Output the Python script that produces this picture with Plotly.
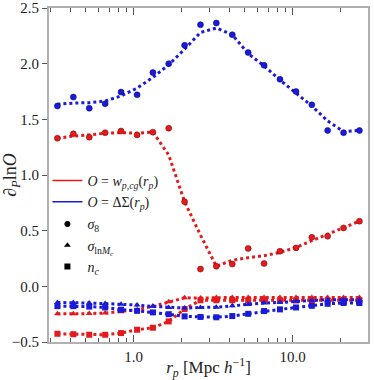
import plotly.graph_objects as go

# projected separation bins [Mpc/h]
rp = [0.331, 0.417, 0.525, 0.661, 0.832, 1.05, 1.32, 1.66, 2.09, 2.63,
      3.31, 4.17, 5.25, 6.61, 8.32, 10.5, 13.2, 16.6, 20.9, 26.3]

# O = w_p,cg(r_p)
wp_s8 = [1.33, 1.37, 1.34, 1.38, 1.395, 1.36, 1.385, 1.42, 0.76, 0.155,
         0.18, 0.20, 0.34, 0.205, 0.315, 0.345, 0.44, 0.45, 0.525, 0.585]
wp_s8_fit = [1.33, 1.35, 1.36, 1.375, 1.38, 1.375, 1.385, 1.18, 0.76, 0.46,
             0.18, 0.235, 0.257, 0.275, 0.305, 0.35, 0.41, 0.47, 0.53, 0.585]
wp_lnmc = [-0.247, -0.247, -0.245, -0.24, -0.228, -0.21, -0.18, -0.139, -0.103, -0.105,
           -0.10, -0.10, -0.10, -0.10, -0.10, -0.10, -0.10, -0.10, -0.10, -0.10]
wp_nc = [-0.426, -0.43, -0.435, -0.435, -0.42, -0.39, -0.372, -0.315, -0.204, -0.125,
         -0.125, -0.125, -0.127, -0.127, -0.127, -0.127, -0.127, -0.127, -0.125, -0.125]

# O = DeltaSigma(r_p)
ds_s8 = [1.62, 1.70, 1.60, 1.64, 1.745, 1.72, 1.92, 2.00, 2.165, 2.35,
         2.365, 2.26, 2.10, 1.985, 1.86, 1.75, 1.63, 1.40, 1.38, 1.40]
ds_s8_fit = [1.635, 1.646, 1.65, 1.664, 1.71, 1.78, 1.877, 1.99, 2.13, 2.28,
             2.32, 2.26, 2.09, 1.98, 1.853, 1.733, 1.62, 1.485, 1.39, 1.40]
ds_lnmc = [-0.145, -0.145, -0.15, -0.155, -0.16, -0.168, -0.18, -0.19, -0.195, -0.19,
           -0.187, -0.175, -0.163, -0.15, -0.145, -0.133, -0.127, -0.12, -0.12, -0.12]
ds_nc = [-0.178, -0.178, -0.182, -0.19, -0.21, -0.22, -0.234, -0.25, -0.27, -0.275,
         -0.278, -0.267, -0.247, -0.222, -0.207, -0.19, -0.175, -0.157, -0.15, -0.15]

RED = "#e41a1c"
BLUE = "#1a1ad9"
FONT = "Liberation Serif"

fig = go.Figure()


def add_set(fit, pts, color, symbol, fit_mode="lines"):
    fig.add_trace(go.Scatter(x=rp, y=fit, mode=fit_mode, showlegend=False,
                             line=dict(color=color, width=3, dash="dot"),
                             marker=dict(color=color, size=6, symbol=symbol)))
    if pts is not None:
        fig.add_trace(go.Scatter(x=rp, y=pts, mode="markers", showlegend=False,
                                 marker=dict(color=color, size=6, symbol=symbol,
                                             line=dict(color="#700000" if color == RED else "#000070", width=0.5))))


add_set(wp_s8_fit, wp_s8, RED, "circle")
add_set(ds_s8_fit, ds_s8, BLUE, "circle")
add_set(wp_lnmc, None, RED, "triangle-up", "lines+markers")
add_set(wp_nc, None, RED, "square", "lines+markers")
add_set(ds_lnmc, None, BLUE, "triangle-up", "lines+markers")
add_set(ds_nc, None, BLUE, "square", "lines+markers")

# legend entries: observables (lines) and parameters (markers)
fig.add_trace(go.Scatter(x=[None], y=[None], mode="lines", line=dict(color=RED, width=1.5),
                         name="<i>O</i> = <i>w</i><sub><i>p,cg</i></sub>(<i>r</i><sub><i>p</i></sub>)"))
fig.add_trace(go.Scatter(x=[None], y=[None], mode="lines", line=dict(color=BLUE, width=1.5),
                         name="<i>O</i> = ΔΣ(<i>r</i><sub><i>p</i></sub>)"))
fig.add_trace(go.Scatter(x=[None], y=[None], mode="markers", legend="legend2",
                         marker=dict(color="black", size=6, symbol="circle"),
                         name="<i>σ</i><sub>8</sub>"))
fig.add_trace(go.Scatter(x=[None], y=[None], mode="markers", legend="legend2",
                         marker=dict(color="black", size=6, symbol="triangle-up"),
                         name="<i>σ</i><sub>ln<i>M<sub>c</sub></i></sub>"))
fig.add_trace(go.Scatter(x=[None], y=[None], mode="markers", legend="legend2",
                         marker=dict(color="black", size=6, symbol="square"),
                         name="<i>n</i><sub><i>c</i></sub>"))

fig.update_xaxes(type="log", range=[-0.533, 1.474], automargin=False,
                 tickvals=[1, 10], ticktext=["1.0", "10.0"],
                 ticks="inside", ticklen=7, tickcolor="#555",
                 minor=dict(tickvals=[0.3, 0.4, 0.5, 0.6, 0.7, 0.8, 0.9, 2, 3, 4, 5, 6, 7, 8, 9, 20, 30],
                            ticks="inside", ticklen=4, tickcolor="#555"),
                 showline=True, linecolor="#b0b0b0", linewidth=2, mirror="allticks",
                 showgrid=False, zeroline=False,
                 tickfont=dict(family=FONT, size=15, color="#222"),
                 title=dict(text="<i>r</i><sub><i>p</i></sub> [Mpc <i>h</i><sup>−1</sup>]",
                            font=dict(family=FONT, size=17, color="#222"), standoff=0))
fig.update_yaxes(range=[-0.5, 2.5], dtick=0.5, tickformat=".1f", automargin=False,
                 ticks="outside", ticklen=5, tickcolor="#555",
                 showline=True, linecolor="#b0b0b0", linewidth=2, mirror=True,
                 showgrid=False, zeroline=False,
                 tickfont=dict(family=FONT, size=15, color="#222"),
                 title=dict(text="∂<sub><i>P</i></sub>ln<i>O</i>",
                            font=dict(family=FONT, size=18, color="#222"), standoff=6))

legend_style = dict(xanchor="left", yanchor="top", bgcolor="rgba(0,0,0,0)", itemwidth=30,
                    font=dict(family=FONT, size=14, color="#222"))
fig.update_layout(width=374, height=380,
                  margin=dict(l=49, r=6, t=8, b=38, autoexpand=False),
                  paper_bgcolor="white", plot_bgcolor="white",
                  legend=dict(x=-0.005, y=0.53, tracegroupgap=0, **legend_style),
                  legend2=dict(x=-0.005, y=0.4, **legend_style))

# the page's default body margin would push the 374x380 figure off the window
fig.write_html("out.html", config={"displayModeBar": False},
               post_script="document.body.style.margin = '0';")
